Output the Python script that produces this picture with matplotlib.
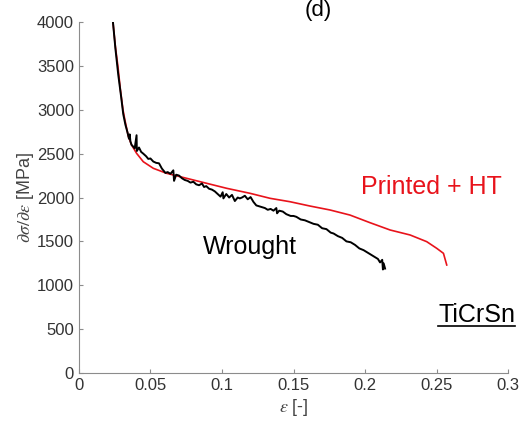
import matplotlib.pyplot as plt

plt.rcParams["font.family"] = ["Liberation Sans", "DejaVu Sans"]
plt.rcParams["mathtext.fontset"] = "stix"

# Printed + HT curve
eps_printed = [0.0238, 0.0255, 0.0273, 0.029, 0.0308, 0.0322, 0.0345, 0.0368, 0.0403,
               0.045, 0.052, 0.0613, 0.0753, 0.0893, 0.1033, 0.1196, 0.1336, 0.1476,
               0.1615, 0.1755, 0.1895, 0.2035, 0.2175, 0.2315, 0.2431, 0.2501, 0.2548,
               0.2571]
hard_printed = [4000, 3720, 3490, 3230, 3000, 2880, 2700, 2600, 2504,
                2408, 2333, 2276, 2219, 2162, 2105, 2048, 1991, 1952,
                1903, 1858, 1800, 1713, 1630, 1573, 1497, 1421, 1364,
                1231]

# Wrought curve (noisy)
eps_wrought = [0.0238, 0.0255, 0.0275, 0.0295, 0.031, 0.0325, 0.034, 0.035, 0.0355,
               0.036, 0.0368, 0.038, 0.039, 0.0403, 0.0405, 0.042, 0.0435, 0.045,
               0.047, 0.0485, 0.05, 0.052, 0.054, 0.056, 0.058, 0.0605, 0.062, 0.064,
               0.066, 0.0665, 0.068, 0.07, 0.072, 0.074, 0.076, 0.078, 0.08, 0.082,
               0.084, 0.086, 0.0875, 0.089, 0.091, 0.093, 0.095, 0.097, 0.099, 0.1005,
               0.101, 0.103, 0.105, 0.107, 0.109, 0.111, 0.1125, 0.114, 0.116, 0.118,
               0.12, 0.122, 0.124, 0.126, 0.128, 0.13, 0.132, 0.134, 0.136, 0.138,
               0.1385, 0.14, 0.1425, 0.145, 0.148, 0.15, 0.152, 0.155, 0.158, 0.161,
               0.164, 0.167, 0.17, 0.173, 0.176, 0.178, 0.181, 0.184, 0.187, 0.19,
               0.193, 0.196, 0.199, 0.202, 0.205, 0.207, 0.209, 0.2105, 0.212, 0.2125,
               0.213, 0.214]
hard_wrought = [4000, 3700, 3400, 3150, 2950, 2830, 2740, 2670, 2720,
                2640, 2600, 2580, 2560, 2710, 2530, 2570, 2520, 2500,
                2470, 2440, 2445, 2410, 2395, 2390, 2330, 2280, 2290, 2270,
                2310, 2190, 2260, 2250, 2220, 2200, 2190, 2170, 2180, 2150,
                2140, 2160, 2120, 2130, 2100, 2090, 2070, 2040, 2010, 2060,
                1990, 2040, 2000, 2030, 1960, 2000, 1990, 2000, 2020, 1980,
                2005, 1950, 1910, 1900, 1890, 1880, 1860, 1870, 1850, 1880,
                1820, 1850, 1840, 1810, 1790, 1790, 1780, 1750, 1740, 1720,
                1700, 1690, 1650, 1640, 1600, 1590, 1560, 1540, 1500, 1490,
                1460, 1420, 1400, 1370, 1340, 1320, 1300, 1260, 1290, 1180,
                1250, 1190]

x_ticks = [0, 0.05, 0.1, 0.15, 0.2, 0.25, 0.3]
x_labels = ["0", "0.05", "0.1", "0.15", "0.2", "0.25", "0.3"]
y_ticks = [0, 500, 1000, 1500, 2000, 2500, 3000, 3500, 4000]

fig = plt.figure(figsize=(5.26, 4.28), dpi=100)
ax = fig.add_axes([0.150, 0.1285, 0.816, 0.82])

ax.plot(eps_printed, hard_printed, color="#e8131b", lw=1.2)
ax.plot(eps_wrought, hard_wrought, color="black", lw=1.4)

ax.set_xlim(0, 0.3)
ax.set_ylim(0, 4000)
ax.set_xticks(x_ticks)
ax.set_xticklabels(x_labels)
ax.set_yticks(y_ticks)

for side in ["top", "right"]:
    ax.spines[side].set_visible(False)
for side in ["left", "bottom"]:
    ax.spines[side].set_color("#8c8c8c")
ax.tick_params(direction="in", length=3, color="#8c8c8c", labelsize=12,
               labelcolor="#333333")

ax.set_xlabel(r"$\epsilon$ [-]", fontsize=13, color="#444444", labelpad=3)
ax.set_ylabel(r"$\partial\sigma/\partial\epsilon$ [MPa]", fontsize=13,
              color="#444444", labelpad=1)

ax.text(0.197, 2120, "Printed + HT", color="#e8131b", fontsize=18, va="center")
ax.text(0.0865, 1435, "Wrought", color="black", fontsize=18, va="center")
ax.text(0.251, 660, "TiCrSn", color="black", fontsize=18, va="center",
        clip_on=False)
ax.plot([0.251, 0.305], [535, 535], color="black", lw=1.2, clip_on=False)

fig.text(0.605, 1.0, "(d)", fontsize=16, ha="center", va="top")

fig.savefig("out.png", dpi=100)
